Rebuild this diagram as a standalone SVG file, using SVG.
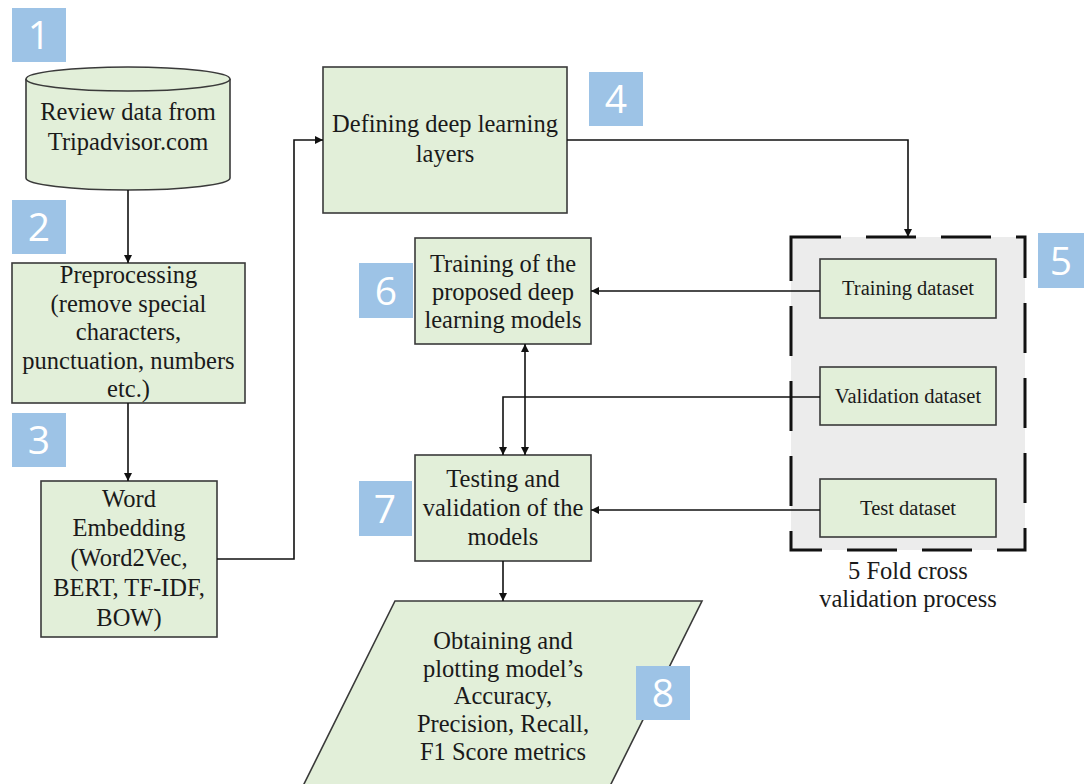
<svg xmlns="http://www.w3.org/2000/svg" width="1084" height="784" viewBox="0 0 1084 784">
<defs>
<marker id="ah" viewBox="0 0 10 10" refX="10" refY="5" markerWidth="10" markerHeight="8" markerUnits="userSpaceOnUse" orient="auto-start-reverse">
<path d="M0,0 L10,5 L0,10 Z" fill="#111"/>
</marker>
<style>
.box{fill:#e2efd9;stroke:#3a3a3a;stroke-width:1.6}
.t{font-family:"Liberation Serif","Times New Roman",serif;font-size:24.5px;fill:#1a1a1a;text-anchor:middle}
.ts{font-family:"Liberation Serif","Times New Roman",serif;font-size:20.5px;fill:#1a1a1a;text-anchor:middle}
.badge{fill:#9dc3e6}
.bn{font-family:"Open Sans","Noto Sans","Liberation Sans",sans-serif;font-size:39px;fill:#ffffff;text-anchor:middle}
.c{fill:none;stroke:#111;stroke-width:1.6}
</style>
</defs>
<rect width="1084" height="784" fill="#ffffff"/>

<g id="crossval">
<rect x="791" y="237" width="234" height="313" fill="#ececec" stroke="#111" stroke-width="3" stroke-dasharray="50 25"/>
<text class="t" x="908" y="579">5 Fold cross</text>
<text class="t" x="908" y="607">validation process</text>
</g>

<g id="n1">
<path class="box" d="M26,79 L26,178 A102,12 0 0 0 230,178 L230,79"/>
<ellipse class="box" cx="128" cy="79" rx="102" ry="12"/>
<text class="t" x="128" y="120">Review data from</text>
<text class="t" x="128" y="150">Tripadvisor.com</text>
</g>

<g id="n2">
<rect class="box" x="12" y="263" width="233" height="140"/>
<text class="t" x="128.5" y="283">Preprocessing</text>
<text class="t" x="128.5" y="312">(remove special</text>
<text class="t" x="128.5" y="340">characters,</text>
<text class="t" x="128.5" y="369">punctuation, numbers</text>
<text class="t" x="128.5" y="397">etc.)</text>
</g>

<g id="n3">
<rect class="box" x="41" y="481" width="176" height="156"/>
<text class="t" x="129" y="507">Word</text>
<text class="t" x="129" y="536">Embedding</text>
<text class="t" x="129" y="566">(Word2Vec,</text>
<text class="t" x="129" y="596">BERT, TF-IDF,</text>
<text class="t" x="129" y="626">BOW)</text>
</g>

<g id="n4">
<rect class="box" x="323" y="67" width="244" height="146"/>
<text class="t" x="445" y="132">Defining deep learning</text>
<text class="t" x="445" y="162">layers</text>
</g>

<g id="d1">
<rect class="box" x="820" y="259" width="176" height="59"/>
<text class="ts" x="908" y="295">Training dataset</text>
</g>
<g id="d2">
<rect class="box" x="820" y="367" width="176" height="58"/>
<text class="ts" x="908" y="403">Validation dataset</text>
</g>
<g id="d3">
<rect class="box" x="820" y="479" width="176" height="58"/>
<text class="ts" x="908" y="515">Test dataset</text>
</g>

<g id="n6">
<rect class="box" x="415" y="238" width="176" height="106"/>
<text class="t" x="503" y="272">Training of the</text>
<text class="t" x="503" y="300">proposed deep</text>
<text class="t" x="503" y="328">learning models</text>
</g>

<g id="n7">
<rect class="box" x="415" y="455" width="176" height="106"/>
<text class="t" x="503" y="487">Testing and</text>
<text class="t" x="503" y="516">validation of the</text>
<text class="t" x="503" y="545">models</text>
</g>

<g id="n8">
<path class="box" d="M395,601 L702,601 L610,786 L303,786 Z"/>
<text class="t" x="503" y="649">Obtaining and</text>
<text class="t" x="503" y="677">plotting model’s</text>
<text class="t" x="503" y="704">Accuracy,</text>
<text class="t" x="503" y="732">Precision, Recall,</text>
<text class="t" x="503" y="760">F1 Score metrics</text>
</g>

<g id="connectors">
<path class="c" d="M128,190 L128,263" marker-end="url(#ah)"/>
<path class="c" d="M128,403 L128,481" marker-end="url(#ah)"/>
<path class="c" d="M217,559 L294,559 L294,140 L323,140" marker-end="url(#ah)"/>
<path class="c" d="M567,140 L908,140 L908,237" marker-end="url(#ah)"/>
<path class="c" d="M820,291 L591,291" marker-end="url(#ah)"/>
<path class="c" d="M820,397 L503,397 L503,455" marker-end="url(#ah)"/>
<path class="c" d="M820,510 L591,510" marker-end="url(#ah)"/>
<path class="c" d="M525,344 L525,455" marker-start="url(#ah)" marker-end="url(#ah)"/>
<path class="c" d="M503,561 L503,601" marker-end="url(#ah)"/>
</g>

<g id="badges">
<g id="badge1"><rect class="badge" x="12" y="8" width="54" height="54"/><text class="bn" x="39" y="49">1</text></g>
<g id="badge2"><rect class="badge" x="12" y="200" width="54" height="54"/><text class="bn" x="39" y="241">2</text></g>
<g id="badge3"><rect class="badge" x="12" y="413" width="54" height="54"/><text class="bn" x="39" y="454">3</text></g>
<g id="badge4"><rect class="badge" x="589" y="72" width="54" height="54"/><text class="bn" x="616" y="113">4</text></g>
<g id="badge5"><rect class="badge" x="1038" y="233" width="54" height="55"/><text class="bn" x="1061" y="275">5</text></g>
<g id="badge6"><rect class="badge" x="359" y="263" width="54" height="55"/><text class="bn" x="386" y="305">6</text></g>
<g id="badge7"><rect class="badge" x="359" y="481" width="53" height="55"/><text class="bn" x="385" y="523">7</text></g>
<g id="badge8"><rect class="badge" x="636" y="666" width="54" height="54"/><text class="bn" x="663" y="707">8</text></g>
</g>
</svg>
